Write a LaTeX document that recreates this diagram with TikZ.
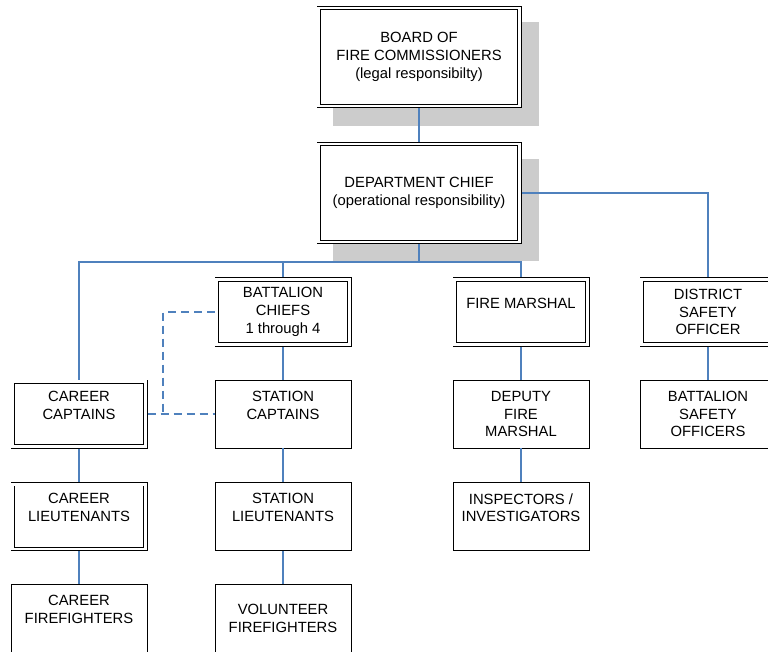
\documentclass[tikz,border=0pt]{standalone}
\usepackage{fontspec}
\setmainfont{Liberation Sans}
\usetikzlibrary{backgrounds}

\definecolor{linkblue}{RGB}{79,129,189}
\definecolor{shadowgray}{RGB}{204,204,204}

\tikzset{
  unit/.style={draw, fill=white, line width=0.9pt, align=center, inner sep=0pt,
    minimum width=136pt, minimum height=68pt,
    font=\fontsize{14.8}{17.7}\selectfont},
  unitdbl/.style={unit, double, double distance=2.6pt, outer sep=2.2pt,
    minimum width=132.6pt, minimum height=64.6pt},
  topunit/.style={unitdbl, minimum width=200.6pt, minimum height=98pt},
  link/.style={draw=linkblue, line width=1.2pt},
  liaison/.style={link, dash pattern=on 8pt off 5pt}
}

\begin{document}
\begin{tikzpicture}[x=1pt, y=-1pt]
    \useasboundingbox (0,0) rectangle (768,652);
    \clip (0,0) rectangle (768,652);

    % Top of the chain
    \node[topunit] (board) at (419,57) {BOARD OF\\FIRE COMMISSIONERS\\(legal responsibilty)};
    \node[topunit] (dept) at (419,193) {DEPARTMENT CHIEF\\(operational responsibility)};

    % Shadows behind the top boxes
    \begin{scope}[on background layer]
        \fill[shadowgray] ([shift={(16,16)}]board.north west) rectangle ([shift={(17,18)}]board.south east);
        \fill[shadowgray] ([shift={(16,17)}]dept.north west) rectangle ([shift={(17,17)}]dept.south east);
    \end{scope}

    % First row
    \node[unitdbl] (batchiefs) at (283,312) {BATTALION\\CHIEFS\\1 through 4};
    \node[unitdbl] (firemarshal) at (521,312) {FIRE MARSHAL\\\mbox{}};
    \node[unitdbl] (district) at (708,312) {DISTRICT\\SAFETY\\OFFICER};

    % Second row
    \node[unitdbl] (capcareer) at (79,414) {CAREER\\CAPTAINS\\\mbox{}};
    \node[unit] (stncapt) at (283,414) {STATION\\CAPTAINS\\\mbox{}};
    \node[unit] (deputy) at (521,414) {DEPUTY\\FIRE\\MARSHAL};
    \node[unit] (batsafety) at (708,414) {BATTALION\\SAFETY\\OFFICERS};

    % Third row
    \node[unitdbl] (ltcareer) at (79,516.5) {CAREER\\LIEUTENANTS\\\mbox{}};
    \node[unit] (stnlt) at (283,516.5) {STATION\\LIEUTENANTS\\\mbox{}};
    \node[unit] (inspectors) at (521,516.5) {INSPECTORS /\\INVESTIGATORS\\\mbox{}};

    % Fourth row
    \node[unit] (ffcareer) at (79,618.5) {CAREER\\FIREFIGHTERS\\\mbox{}};
    \node[unit] (volunteer) at (283,618.5) {VOLUNTEER\\FIREFIGHTERS};

    % Reporting lines
    \coordinate (bus) at (419,262);
    \draw[link] (board) -- (dept);
    \draw[link] (dept.east) -| (district);
    \draw[link] (dept) -- (bus);
    \draw[link] (bus) -| (capcareer);
    \draw[link] (bus) -| (batchiefs);
    \draw[link] (bus) -| (firemarshal);

    \draw[link] (batchiefs) -- (stncapt);
    \draw[link] (stncapt) -- (stnlt);
    \draw[link] (stnlt) -- (volunteer);
    \draw[link] (capcareer) -- (ltcareer);
    \draw[link] (ltcareer) -- (ffcareer);
    \draw[link] (firemarshal) -- (deputy);
    \draw[link] (deputy) -- (inspectors);
    \draw[link] (district) -- (batsafety);

    % Dashed liaison
    \coordinate (jog) at (163,414);
    \draw[liaison] (capcareer) -- (stncapt);
    \draw[liaison] (batchiefs) -| (jog);
\end{tikzpicture}
\end{document}
